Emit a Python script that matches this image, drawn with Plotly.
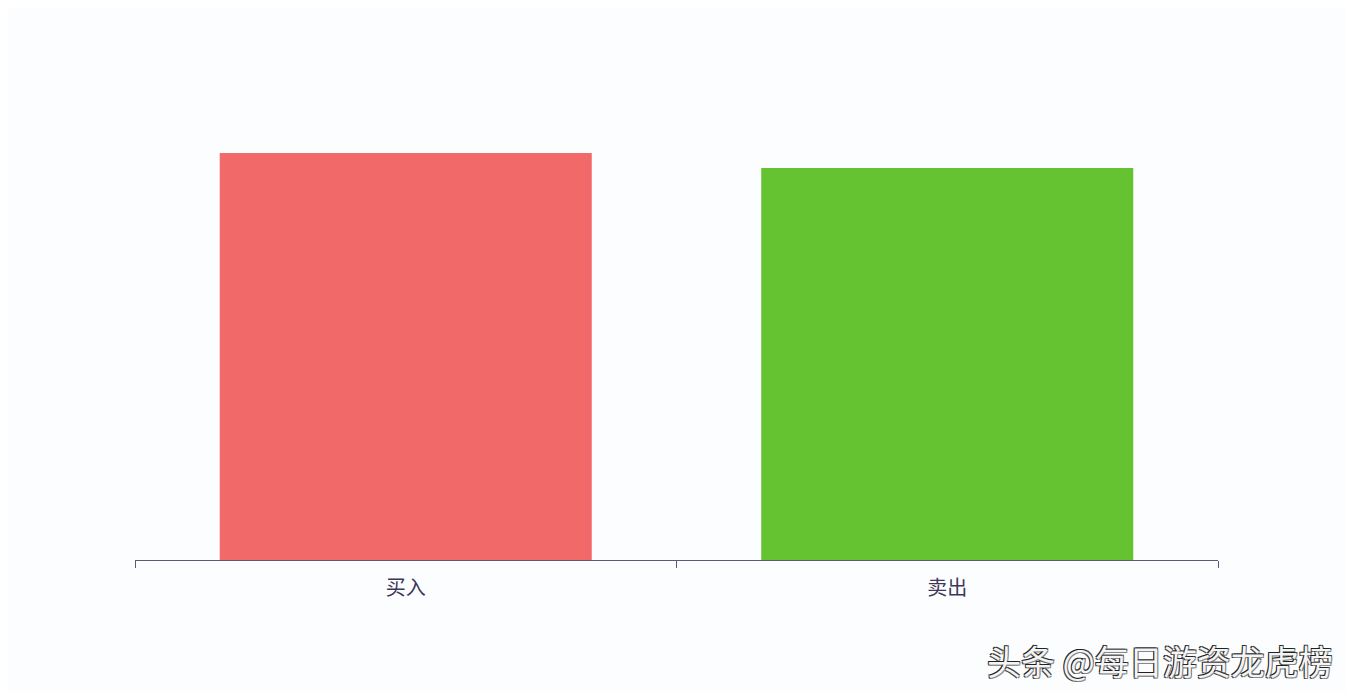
import plotly.graph_objects as go

categories = ["买入", "卖出"]
values = [1.0, 0.963]
bar_colors = ["#F26969", "#65C332"]

fig = go.Figure(go.Bar(
    x=categories, y=values,
    marker=dict(color=bar_colors, line=dict(width=0)),
    hoverinfo="x+y",
))

fig.update_layout(
    width=1338, height=684,
    margin=dict(l=127, r=128, t=42, b=132),
    paper_bgcolor="#FCFDFF",
    plot_bgcolor="#FCFDFF",
    bargap=0.313,
    showlegend=False,
    font=dict(family="Noto Sans CJK SC", color="#3E3858"),
)
fig.update_xaxes(
    showline=True, linecolor="#5A5A78", linewidth=1,
    ticks="outside", tickson="boundaries", ticklen=7, tickcolor="#5A5A78",
    tickfont=dict(size=20, color="#3E3858"), ticklabelstandoff=10,
    showgrid=False, zeroline=False,
)
fig.update_yaxes(
    range=[0, 1.253], visible=False, showgrid=False, zeroline=False,
)
fig.add_annotation(
    text="头条 @每日游资龙虎榜", xref="paper", yref="paper",
    x=1.108, y=-0.198, xanchor="right", yanchor="middle", showarrow=False,
    font=dict(size=34, color="#F4F4F4", family="Noto Sans CJK SC",
              shadow="-1px -1px 0 #222, 1px 1px 0 #888, -1px 1px 0 #444, 1px -1px 0 #444"),
)
fig.write_html("out.html")
